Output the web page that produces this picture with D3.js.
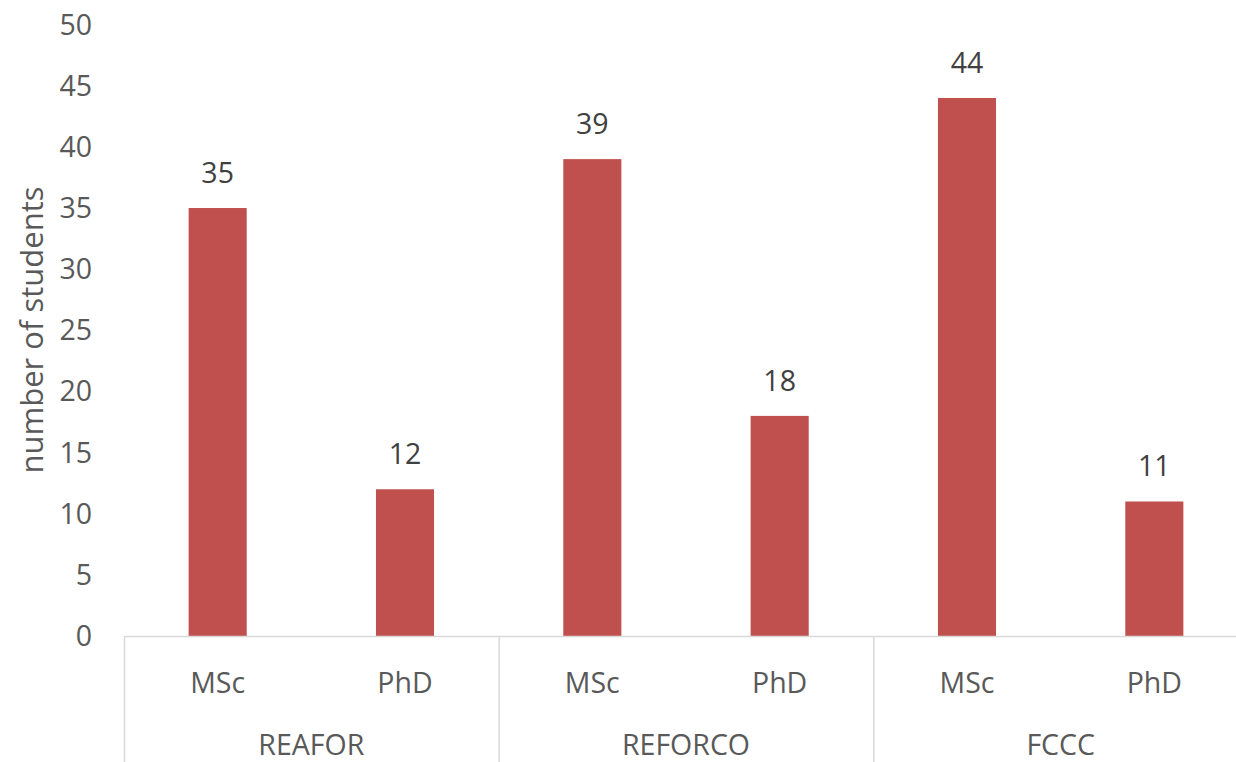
<!DOCTYPE html>
<html>
<head>
<meta charset="utf-8">
<script src="https://cdn.jsdelivr.net/npm/d3@7"></script>
<style>
  body { margin: 0; background: #fff; }
  svg text { font-family: "Open Sans", "Noto Sans", sans-serif; }
</style>
</head>
<body>
<div id="chart"></div>
<script>

// data
var groups = ["REAFOR", "REFORCO", "FCCC"];
var degrees = ["MSc", "PhD"];
var students = [35, 12, 39, 18, 44, 11];
var y_ticks = [0, 5, 10, 15, 20, 25, 30, 35, 40, 45, 50];

var W = 1236, H = 762;
var bar_col = "#c0504d";
var axis_col = "#d9d9d9";
var tick_col = "#595959";
var label_col = "#404040";
var font_sz = "28.5px";

var svg = d3.select("#chart").append("svg")
  .attr("width", W)
  .attr("height", H);

var left = 124, right = 1248, y0 = 636, y50 = 24.6;

// one band per group, then a band per degree inside it
var x_group = d3.scaleBand().domain(groups).range([left, right]).padding(0);
var x_deg = d3.scaleBand().domain(degrees).range([0, x_group.bandwidth()]).paddingInner(0.69).paddingOuter(0.345);

var y = d3.scaleLinear().domain([0, 50]).range([y0, y50]);

var rows = students.map(function(v, i) {
  return {group: groups[Math.floor(i / degrees.length)], deg: degrees[i % degrees.length], value: v};
});

// y tick labels (no axis line, no grid)
svg.append("g")
  .selectAll("text")
  .data(y_ticks)
  .enter()
  .append("text")
    .attr("x", 92)
    .attr("y", function(d){ return y(d); })
    .attr("dy", "0.35em")
    .attr("text-anchor", "end")
    .style("font-size", font_sz)
    .style("fill", tick_col)
    .text(function(d){ return d; });

// y axis title
svg.append("text")
  .attr("transform", "translate(" + 43 + "," + 330 + ") rotate(-90)")
  .attr("text-anchor", "middle")
  .style("font-size", "31px")
  .style("fill", tick_col)
  .text("number of students");

// bars
svg.append("g")
  .selectAll("rect")
  .data(rows)
  .enter()
  .append("rect")
    .attr("x", function(d){ return x_group(d.group) + x_deg(d.deg); })
    .attr("width", x_deg.bandwidth())
    .attr("y", function(d){ return y(d.value); })
    .attr("height", function(d){ return y0 - y(d.value); })
    .style("fill", bar_col);

// value labels
svg.append("g")
  .selectAll("text")
  .data(rows)
  .enter()
  .append("text")
    .attr("x", function(d){ return x_group(d.group) + x_deg(d.deg) + x_deg.bandwidth()/2; })
    .attr("y", function(d){ return y(d.value) - 25; })
    .attr("text-anchor", "middle")
    .style("font-size", font_sz)
    .style("fill", label_col)
    .text(function(d){ return d.value; });

// x axis baseline
svg.append("line")
  .attr("x1", left).attr("x2", right)
  .attr("y1", y0 + 0.5).attr("y2", y0 + 0.5)
  .style("stroke", axis_col)
  .style("stroke-width", 1.5);

// group separators
var seps = groups.map(function(g){ return x_group(g); }).concat([right]);
svg.append("g")
  .selectAll("line")
  .data(seps)
  .enter()
  .append("line")
    .attr("x1", function(d){ return d + 0.5; })
    .attr("x2", function(d){ return d + 0.5; })
    .attr("y1", y0)
    .attr("y2", H)
    .style("stroke", axis_col)
    .style("stroke-width", 1.5);

// degree labels
svg.append("g")
  .selectAll("text")
  .data(rows)
  .enter()
  .append("text")
    .attr("x", function(d){ return x_group(d.group) + x_deg(d.deg) + x_deg.bandwidth()/2; })
    .attr("y", 683)
    .attr("dy", "0.35em")
    .attr("text-anchor", "middle")
    .style("font-size", font_sz)
    .style("fill", tick_col)
    .text(function(d){ return d.deg; });

// group labels
svg.append("g")
  .selectAll("text")
  .data(groups)
  .enter()
  .append("text")
    .attr("x", function(d){ return x_group(d) + x_group.bandwidth()/2; })
    .attr("y", 745)
    .attr("dy", "0.35em")
    .attr("text-anchor", "middle")
    .style("font-size", font_sz)
    .style("fill", tick_col)
    .text(function(d){ return d; });

</script>
</body>
</html>
